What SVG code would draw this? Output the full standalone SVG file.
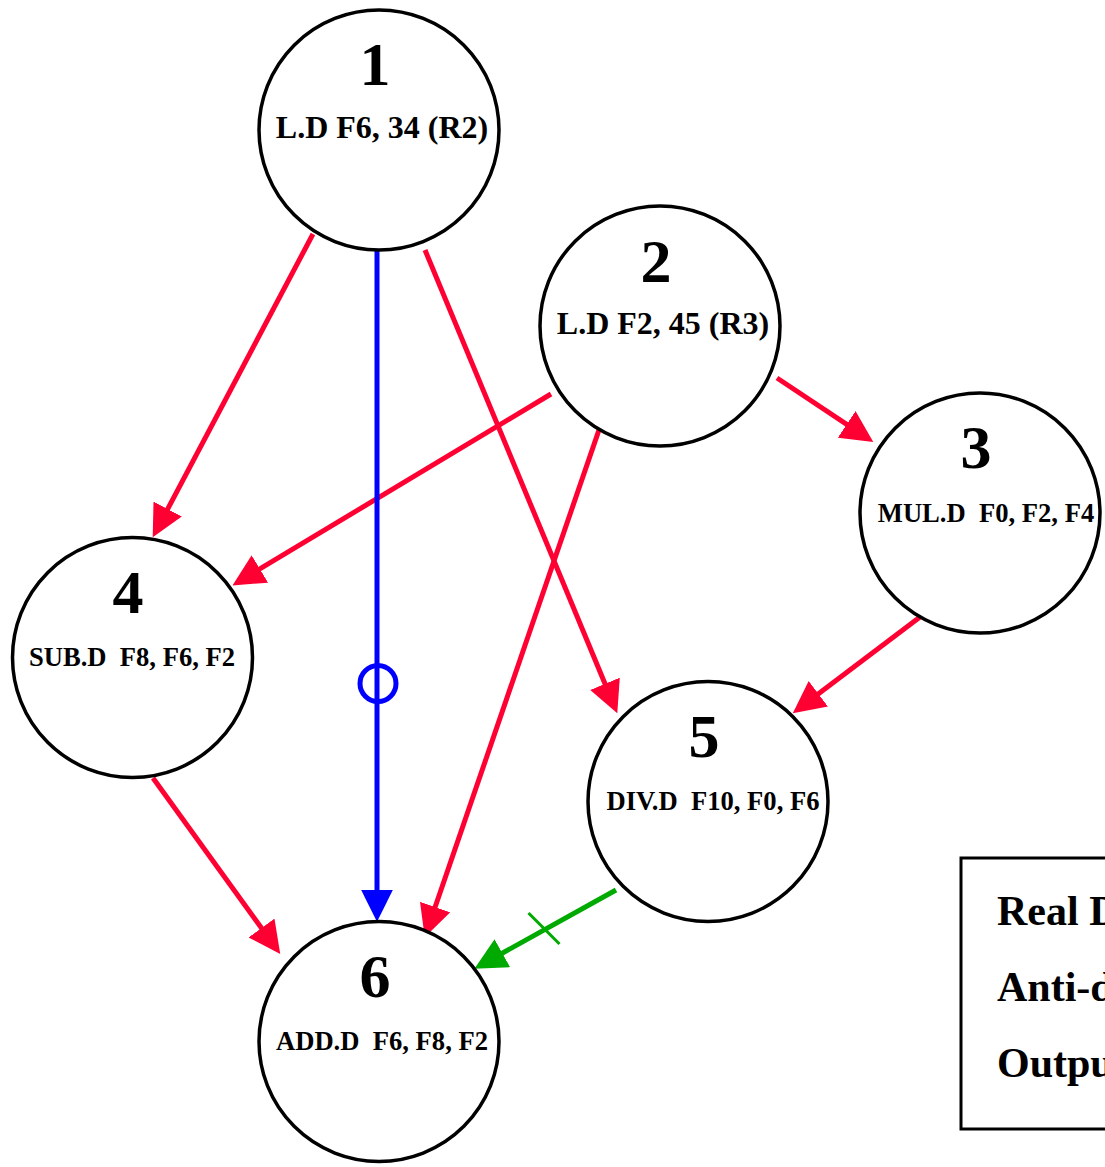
<svg xmlns="http://www.w3.org/2000/svg" width="1105" height="1167" viewBox="0 0 1105 1167">
<style>
.node circle{fill:#fff;stroke:#000;stroke-width:3.5}
.num{font-family:"Liberation Serif","Times New Roman",serif;font-weight:bold;font-size:62px;text-anchor:middle;fill:#000}
.lbl{font-family:"Liberation Serif","Times New Roman",serif;font-weight:bold;font-size:26.6px;text-anchor:middle;fill:#000}
.lbl.big{font-size:32px}
.real{stroke:#FF0033;stroke-width:5;fill:none}
.anti{stroke:#0000FF;stroke-width:5;fill:none}
.out{stroke:#00AA00;stroke-width:5;fill:none}
.leg{font-family:"Liberation Serif","Times New Roman",serif;font-weight:bold;font-size:42px;fill:#000}
</style>
<defs>
<marker id="aR" markerUnits="userSpaceOnUse" markerWidth="32" markerHeight="32" viewBox="0 0 30 30" refX="20" refY="15" orient="auto"><path d="M0,0 L30,15 L0,30 z" fill="#FF0033"/></marker>
<marker id="aB" markerUnits="userSpaceOnUse" markerWidth="32" markerHeight="32" viewBox="0 0 30 30" refX="20" refY="15" orient="auto"><path d="M0,0 L30,15 L0,30 z" fill="#0000FF"/></marker>
<marker id="aG" markerUnits="userSpaceOnUse" markerWidth="32" markerHeight="32" viewBox="0 0 30 30" refX="20" refY="15" orient="auto"><path d="M0,0 L30,15 L0,30 z" fill="#00AA00"/></marker>
</defs>
<rect width="1105" height="1167" fill="#fff"/>
<g id="connectors">
<line class="real" x1="313" y1="234" x2="157.7" y2="527.9" marker-end="url(#aR)"/>
<line class="real" x1="425" y1="250" x2="613.2" y2="703.5" marker-end="url(#aR)"/>
<line class="real" x1="551" y1="394" x2="241.6" y2="579.9" marker-end="url(#aR)"/>
<line class="real" x1="600" y1="427" x2="428.2" y2="927.2" marker-end="url(#aR)"/>
<line class="real" x1="777" y1="378" x2="864.4" y2="436.2" marker-end="url(#aR)"/>
<line class="real" x1="920" y1="617" x2="801.3" y2="706.7" marker-end="url(#aR)"/>
<line class="real" x1="153" y1="778" x2="274" y2="945.3" marker-end="url(#aR)"/>
<line class="anti" x1="377" y1="250" x2="377" y2="911" marker-end="url(#aB)"/>
<circle class="anti" cx="378" cy="683.5" r="18" stroke-width="4"/>
<line class="out" x1="616" y1="890" x2="483.7" y2="963.5" marker-end="url(#aG)"/>
<line x1="528.5" y1="913" x2="559.5" y2="944" stroke="#00AA00" stroke-width="3"/>
</g>
<g id="node1" class="node">
<circle cx="379" cy="130" r="120"/>
<text class="num" x="375" y="85">1</text>
<text class="lbl big" x="382" y="138">L.D F6, 34 (R2)</text>
</g>
<g id="node2" class="node">
<circle cx="660" cy="326" r="120"/>
<text class="num" x="656" y="282">2</text>
<text class="lbl big" x="663" y="334">L.D F2, 45 (R3)</text>
</g>
<g id="node3" class="node">
<circle cx="980" cy="513" r="120"/>
<text class="num" x="976" y="468">3</text>
<text class="lbl" x="986" y="522" xml:space="preserve">MUL.D  F0, F2, F4</text>
</g>
<g id="node4" class="node">
<circle cx="132.5" cy="657.5" r="120"/>
<text class="num" x="128" y="613">4</text>
<text class="lbl" x="132" y="666" xml:space="preserve">SUB.D  F8, F6, F2</text>
</g>
<g id="node5" class="node">
<circle cx="708" cy="801.5" r="120"/>
<text class="num" x="704" y="757">5</text>
<text class="lbl" x="713" y="810" xml:space="preserve">DIV.D  F10, F0, F6</text>
</g>
<g id="node6" class="node">
<circle cx="379" cy="1041.5" r="120"/>
<text class="num" x="375" y="997">6</text>
<text class="lbl" x="382" y="1050" xml:space="preserve">ADD.D  F6, F8, F2</text>
</g>
<g id="legend">
<rect x="961" y="858" width="200" height="271" fill="none" stroke="#000" stroke-width="3"/>
<text class="leg" x="997" y="925">Real Dependence</text>
<text class="leg" x="997" y="1001">Anti-dependence</text>
<text class="leg" x="997" y="1077">Output dependence</text>
</g>
</svg>
